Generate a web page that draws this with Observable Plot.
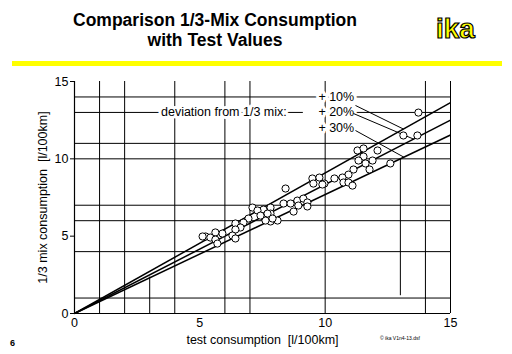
<!DOCTYPE html>
<html><head><meta charset="utf-8">
<script src="https://cdn.jsdelivr.net/npm/d3@7"></script>
<script src="https://cdn.jsdelivr.net/npm/@observablehq/plot@0.6"></script>
<style>
body{margin:0;background:#fff;font-family:"Liberation Sans",Arial,sans-serif;}
#wrap{position:relative;width:512px;height:354px;overflow:hidden;background:#fff;}
#title{position:absolute;left:0;width:430px;top:10px;text-align:center;font-weight:bold;font-size:17.5px;line-height:20px;color:#000;}
#logo{position:absolute;left:436px;top:14px;font-size:28px;font-weight:bold;color:#ffff00;-webkit-text-stroke:1.2px #000;line-height:30px;}
#bar{position:absolute;left:12px;top:61px;width:490px;height:5px;background:#ffff00;}
#chart{position:absolute;left:0;top:70px;}
#page{position:absolute;left:10px;top:338px;font-size:9px;font-weight:bold;}
#credit{position:absolute;left:380px;top:335px;font-size:5px;color:#000;}
.halo text{paint-order:stroke;stroke-linejoin:round;}
</style></head>
<body>
<div id="wrap">
  <div id="title">Comparison 1/3-Mix Consumption<br>with Test Values</div>
  <div id="logo">ika</div>
  <div id="bar"></div>
  <div id="chart"></div>
  <div id="page">6</div>
  <div id="credit">© ika V1n4-13.dsf</div>
</div>
<script>
const testX = [13.72,13.12,13.68,12.09,11.29,11.53,11.53,11.33,11.61,11.89,11.77,12.60,11.13,10.93,10.69,10.37,9.97,10.73,10.93,11.09,9.49,9.77,9.53,9.89,8.42,8.34,8.62,8.89,9.13,8.93,9.29,9.29,8.74,7.82,7.54,7.82,7.54,7.82,8.10,7.10,7.30,7.70,7.90,7.62,7.42,6.94,6.74,6.42,6.62,6.42,6.30,6.42,5.90,5.62,5.23,5.42,5.62,5.70,5.11];
const mixY = [12.99,11.51,11.51,10.54,10.54,10.67,10.15,9.89,9.70,9.89,9.31,9.70,9.31,8.98,8.79,8.73,8.40,8.47,8.47,8.27,8.73,8.79,8.40,8.34,8.08,7.11,7.11,7.30,7.43,6.98,7.18,6.92,6.59,6.85,6.72,6.46,6.27,5.95,6.01,6.85,6.66,6.46,6.14,6.01,6.33,6.14,5.88,5.82,5.56,5.43,5.04,4.85,5.17,5.24,4.98,4.91,4.78,4.52,4.98];

const deviations = [10, 20, 30];
const devLabels = ["+ 10%", "+ 20%", "+ 30%"];
const devLabelY = [14, 13, 12];
const devLabelX = 9.73;
const leaderStartX = [11.21, 11.13, 11.21];
const leaderStartY = [13.45, 12.93, 11.83];
const leaderEndX = [13.12, 13.53, 13.14];
const legendTitle = "deviation from 1/3 mix:";
const legendTitleX = 3.45;

const xTicks = [0, 5, 10, 15];
const yTicks = [0, 5, 10, 15];
const xGrid = [1, 2, 4, 6, 7, 10, 14, 15];
const yGrid = [1, 4, 6, 7, 10, 11, 14];
const xPartial = [{x: 3, y1: 0, y2: 2.35}, {x: 13, y1: 1.15, y2: 10}];
const ySegments = [{y: 13, x1: 0, x2: 9.13}, {y: 13, x1: 9.73, x2: 15}];

const points = testX.map((x, i) => ({x, y: mixY[i]}));
const lines = deviations.map(d => ({x1: 0, y1: 0, x2: 15, y2: 15 / (1 + d / 100)}));
const leaders = deviations.map((d, i) => ({x1: leaderStartX[i], y1: leaderStartY[i], x2: leaderEndX[i], y2: leaderEndX[i] / (1 + d / 100)}));
const labels = devLabels.map((t, i) => ({t, x: devLabelX, y: devLabelY[i]}));

const chart = Plot.plot({
  width: 512, height: 284,
  marginTop: 11, marginLeft: 74, marginRight: 62, marginBottom: 41,
  style: {fontFamily: '"Liberation Sans", Arial, sans-serif', fontSize: "12.5px", background: "white", color: "black"},
  x: {domain: [0, 15]},
  y: {domain: [0, 15]},
  marks: [
    Plot.ruleX(xGrid, {stroke: "black", strokeWidth: 1}),
    Plot.ruleX(xPartial, {x: "x", y1: "y1", y2: "y2", stroke: "black", strokeWidth: 1}),
    Plot.ruleY(yGrid, {stroke: "black", strokeWidth: 1}),
    Plot.ruleY(ySegments, {y: "y", x1: "x1", x2: "x2", stroke: "black", strokeWidth: 1}),
    Plot.ruleX([0], {stroke: "black", strokeWidth: 1.2}),
    Plot.ruleY([0], {stroke: "black", strokeWidth: 1.2}),
    Plot.link(lines, {x1: "x1", y1: "y1", x2: "x2", y2: "y2", stroke: "black", strokeWidth: 1.5}),
    Plot.text([legendTitle], {x: legendTitleX, y: 13, text: d => d, textAnchor: "start", fill: "black", stroke: "white", strokeWidth: 6, paintOrder: "stroke", className: "halo", fontSize: 12.5}),
    Plot.text(labels, {x: "x", y: "y", text: "t", textAnchor: "start", fill: "black", stroke: "white", strokeWidth: 6, paintOrder: "stroke", className: "halo", fontSize: 12.5}),
    Plot.link(leaders, {x1: "x1", y1: "y1", x2: "x2", y2: "y2", stroke: "black", strokeWidth: 1}),
    Plot.dot(points, {x: "x", y: "y", r: 3.6, fill: "white", stroke: "black", strokeWidth: 1}),
    Plot.axisY(yTicks, {tickSize: 4, tickPadding: 2, fontSize: 12.5, label: "1/3 mix consumption  [l/100km]", labelAnchor: "center", labelOffset: 36, labelArrow: "none"}),
    Plot.axisX(xTicks, {tickSize: 0, tickPadding: 5, fontSize: 12.5, label: "test consumption  [l/100km]", labelAnchor: "center", labelOffset: 30, labelArrow: "none"})
  ]
});
document.getElementById("chart").appendChild(chart);
</script>
</body></html>
